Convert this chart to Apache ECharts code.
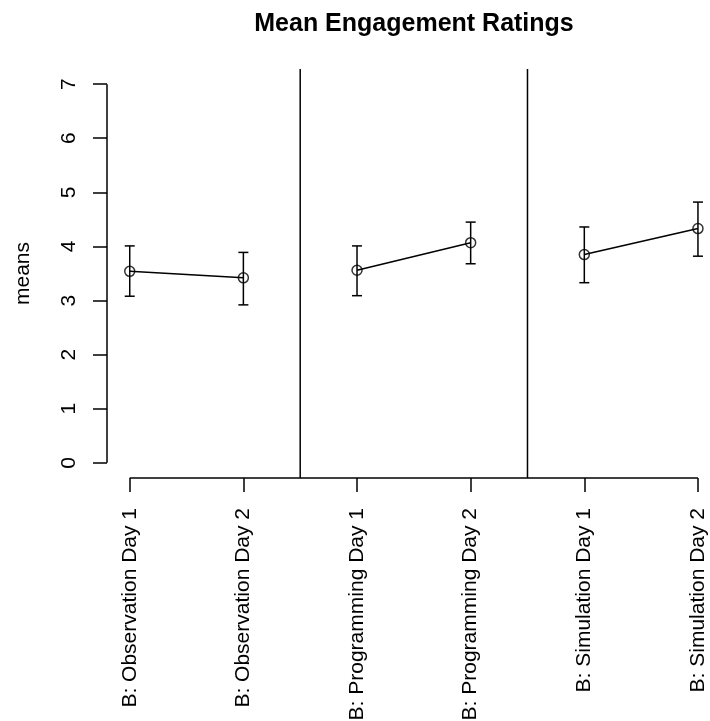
<!DOCTYPE html>
<html>
<head>
<meta charset="utf-8">
<script src="https://cdn.jsdelivr.net/npm/echarts@6/dist/echarts.min.js"></script>
<style>html,body{margin:0;padding:0;background:#fff;}#c{width:710px;height:721px;}</style>
</head>
<body>
<div id="c"></div>
<script>
const categories = ['B: Observation Day 1','B: Observation Day 2','B: Programming Day 1','B: Programming Day 2','B: Simulation Day 1','B: Simulation Day 2'];
const means = [3.54, 3.42, 3.56, 4.07, 3.85, 4.33];
const upper = [4.01, 3.89, 4.01, 4.45, 4.36, 4.82];
const lower = [3.08, 2.92, 3.09, 3.68, 3.33, 3.82];
const yTicks = [0, 1, 2, 3, 4, 5, 6, 7];
const groups = [[0, 1], [2, 3], [4, 5]];
const separators = [2.5, 4.5];

const FONT = "'Liberation Sans', Arial, sans-serif";
const xPos = categories.map((c, i) => i + 1);
const xMin = 0.8, xMax = 6.106;
const yMin = -0.28, yMax = 7.28;
const LW = 1.5;

const series = [];
// separator lines
separators.forEach(s => {
  series.push({type:'line', data:[[s, yMin],[s, yMax]], symbol:'none', silent:true, clip:false,
    lineStyle:{color:'#000', width:LW}});
});
// x axis line from first to last category
series.push({type:'line', data:[[xPos[0], yMin],[xPos[xPos.length-1], yMin]], symbol:'none', silent:true, clip:false,
  lineStyle:{color:'#000', width:LW}});
// y axis line from first to last tick
series.push({type:'line', data:[[xMin, yTicks[0]],[xMin, yTicks[yTicks.length-1]]], symbol:'none', silent:true, clip:false,
  lineStyle:{color:'#000', width:LW}});
// group lines
groups.forEach(g => {
  series.push({type:'line', data:g.map(i => [xPos[i], means[i]]), symbol:'none', silent:true, clip:false,
    lineStyle:{color:'#000', width:LW}});
});
// error bars
series.push({
  type:'custom', silent:true, clip:false,
  data: xPos.map((x, i) => [x, lower[i], upper[i]]),
  renderItem(params, api) {
    const x = api.value(0), lo = api.value(1), hi = api.value(2);
    const a = api.coord([x, lo]), b = api.coord([x, hi]);
    const w = 5;
    const st = {stroke:'#000', lineWidth:LW};
    return {type:'group', children:[
      {type:'line', shape:{x1:a[0], y1:a[1], x2:b[0], y2:b[1]}, style:st},
      {type:'line', shape:{x1:a[0]-w, y1:a[1], x2:a[0]+w, y2:a[1]}, style:st},
      {type:'line', shape:{x1:b[0]-w, y1:b[1], x2:b[0]+w, y2:b[1]}, style:st}
    ]};
  }
});
// mean points
series.push({type:'scatter', data:xPos.map((x, i) => [x, means[i]]), symbol:'circle', symbolSize:10, silent:true, clip:false,
  itemStyle:{color:'rgba(0,0,0,0)', borderColor:'#000', borderWidth:LW}});

const chart = echarts.init(document.getElementById('c'), null, {renderer:'canvas'});
chart.setOption({
  animation:false,
  backgroundColor:'#fff',
  textStyle:{fontFamily:FONT},
  title:{text:'Mean Engagement Ratings', left:409, top:7, textAlign:'center',
    textStyle:{fontFamily:FONT, fontSize:25, fontWeight:'bold', color:'#000'}},
  grid:{left:107, right:0, top:69, bottom:243, containLabel:false, outerBoundsMode:'none'},
  xAxis:{type:'value', min:xMin, max:xMax, splitLine:{show:false},
    axisLine:{show:false, onZero:false},
    axisTick:{show:true, customValues:xPos, length:14, lineStyle:{color:'#000', width:LW}},
    axisLabel:{customValues:xPos, rotate:90, margin:30, fontSize:21, color:'#000', fontFamily:FONT,
      formatter:(v) => categories[Math.round(v) - 1]}
  },
  yAxis:{type:'value', min:yMin, max:yMax, splitLine:{show:false},
    name:'means', nameLocation:'middle', nameRotate:90, nameGap:73,
    nameTextStyle:{fontSize:21, color:'#000', fontFamily:FONT},
    axisLine:{show:false, onZero:false},
    axisTick:{show:true, customValues:yTicks, length:14, lineStyle:{color:'#000', width:LW}},
    axisLabel:{customValues:yTicks, rotate:90, margin:27, fontSize:21, color:'#000', fontFamily:FONT,
      formatter:(v) => String(Math.round(v))}
  },
  series
});
</script>
</body>
</html>
